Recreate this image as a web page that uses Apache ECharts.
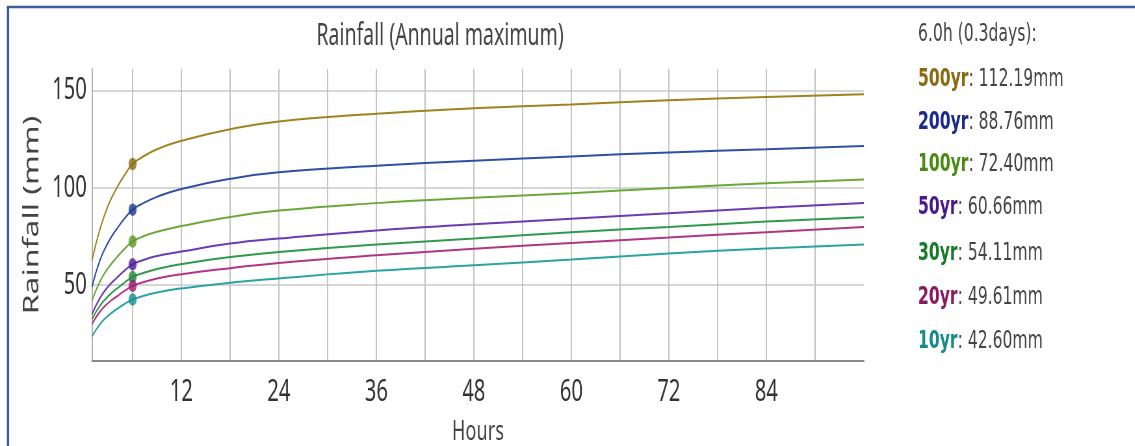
<!DOCTYPE html>
<html>
<head>
<meta charset="utf-8">
<script src="https://cdn.jsdelivr.net/npm/echarts@6/dist/echarts.min.js"></script>
<style>
html,body{margin:0;padding:0;background:#fff;overflow:hidden;}
#wrap{width:1135px;height:446px;overflow:hidden;position:relative;}
#c{width:1746px;height:446px;transform:scaleX(0.65);transform-origin:0 0;}
</style>
</head>
<body>
<div id="wrap"><div id="c"></div></div>
<script>
// ---- data ----
const hours = [1, 2, 3, 4, 5, 6, 7, 9, 12, 18, 24, 36, 48, 60, 72, 84, 96];
const periods = ['500yr', '200yr', '100yr', '50yr', '30yr', '20yr', '10yr'];
const r500 = [62.8, 79.0, 91.0, 99.5, 106.5, 112.19, 115.3, 119.8, 124.1, 130.1, 134.0, 138.0, 140.8, 142.8, 144.9, 146.6, 148.0];
const r200 = [49.1, 63.0, 72.0, 78.5, 84.2, 88.76, 91.4, 95.3, 99.4, 104.6, 107.9, 111.3, 113.9, 116.1, 118.1, 119.8, 121.4];
const r100 = [42.0, 52.0, 58.8, 64.0, 68.6, 72.40, 74.5, 77.4, 80.3, 85.0, 88.3, 92.1, 94.8, 97.2, 99.9, 102.3, 104.3];
const r50  = [35.0, 43.5, 49.3, 53.5, 57.4, 60.66, 62.4, 64.9, 67.2, 71.3, 73.9, 78.1, 81.2, 84.1, 86.9, 89.7, 92.2];
const r30  = [32.5, 39.5, 44.3, 48.0, 51.3, 54.11, 55.8, 58.3, 60.8, 64.4, 67.0, 70.8, 73.9, 77.2, 79.8, 82.6, 84.9];
const r20  = [30.0, 36.5, 40.8, 44.0, 47.0, 49.61, 51.1, 53.4, 55.6, 58.7, 61.4, 65.3, 68.6, 71.6, 74.4, 77.2, 79.8];
const r10  = [23.6, 30.0, 34.3, 37.5, 40.3, 42.60, 44.0, 46.2, 48.3, 51.2, 53.4, 57.3, 60.2, 63.1, 66.2, 68.8, 70.9];
const seriesValues = [r500, r200, r100, r50, r30, r20, r10];
const markHour = 6;
const depthLabels = ['112.19mm', '88.76mm', '72.40mm', '60.66mm', '54.11mm', '49.61mm', '42.60mm'];
const headerText = '6.0h (0.3days):';
const xTickValues = [6, 12, 18, 24, 30, 36, 42, 48, 54, 60, 66, 72, 78, 84, 90];
const xLabelValues = [12, 24, 36, 48, 60, 72, 84];
const yTickValues = [50, 100, 150];

// ---- styles ----
const SX = 0.65; // horizontal squeeze of the whole picture
const lineColors = ['#a2821f', '#2f4fa3', '#6aa83a', '#6a3bb3', '#2f9a4c', '#b13585', '#2ba3a6'];
const dotColors  = ['#8a6a10', '#1c3592', '#5a9a25', '#4f1a96', '#1f8a3a', '#981d6c', '#16908f'];
const labelColors = ['#8a6a12', '#1b2a86', '#4a8a12', '#4a1a8c', '#1a7a2c', '#8a1a5c', '#178a8a'];
const FONT = '"Noto Sans", sans-serif';
const NARROW = '"Liberation Sans Narrow", "Noto Sans", sans-serif';
const LEGFONT = '"DejaVu Sans", "Noto Sans", sans-serif';

const chart = echarts.init(document.getElementById('c'), null, {renderer: 'canvas'});

const series = [];
seriesValues.forEach((vals, i) => {
  series.push({
    type: 'line',
    name: periods[i],
    data: hours.map((h, k) => [h, vals[k]]),
    smooth: 0.5,
    showSymbol: false,
    lineStyle: {color: lineColors[i], width: 2},
    z: 3,
    silent: true
  });
});
seriesValues.forEach((vals, i) => {
  const k = hours.indexOf(markHour);
  series.push({
    type: 'scatter',
    data: [[markHour, vals[k]]],
    symbolSize: 12.5,
    itemStyle: {color: dotColors[i]},
    z: 5,
    silent: true
  });
});

const legendY = [80, 122.5, 165, 208, 254, 298, 342];
const legendItems = periods.map((p, i) => ({
  type: 'text',
  x: 918 / SX,
  y: legendY[i],
  style: {
    text: '{b|' + p + '}{v|: ' + depthLabels[i] + '}',
    verticalAlign: 'middle',
    rich: {
      b: {fontFamily: LEGFONT, fontSize: 24, fontWeight: 'bold', fill: labelColors[i], color: labelColors[i]},
      v: {fontFamily: LEGFONT, fontSize: 24, fill: '#444', color: '#444'}
    }
  }
}));

chart.setOption({
  animation: false,
  backgroundColor: '#fff',
  grid: {left: 92 / SX, right: (1135 - 864) / SX, top: 69, bottom: 85, containLabel: false, outerBoundsMode: 'none'},
  xAxis: {
    type: 'value',
    min: 1,
    max: 96,
    name: 'Hours',
    nameLocation: 'middle',
    nameGap: 57,
    nameTextStyle: {fontFamily: FONT, fontSize: 28, color: '#444'},
    axisLine: {lineStyle: {color: '#8a8a8a', width: 2}},
    axisTick: {show: false, customValues: xTickValues},
    axisLabel: {customValues: xLabelValues, fontFamily: NARROW, fontSize: 31, color: '#333', margin: 16},
    splitLine: {show: true, lineStyle: {color: '#c4c4c4', width: 2}}
  },
  yAxis: {
    type: 'value',
    min: 11,
    max: 161,
    name: 'Rainfall (mm)',
    nameLocation: 'middle',
    nameGap: 76,
    nameTextStyle: {fontFamily: FONT, fontSize: 32, color: '#444'},
    axisLine: {show: true, lineStyle: {color: '#b0b0b0', width: 2}},
    axisTick: {show: false, customValues: yTickValues},
    axisLabel: {customValues: yTickValues, fontFamily: NARROW, fontSize: 31, color: '#333', margin: 8},
    splitLine: {show: true, lineStyle: {color: '#d6d6d6', width: 2}}
  },
  graphic: [
    {type: 'line', shape: {x1: 7 / SX, y1: 7, x2: 1135 / SX, y2: 7}, style: {stroke: '#3c5ca0', lineWidth: 2.5}},
    {type: 'line', shape: {x1: 8 / SX, y1: 6, x2: 8 / SX, y2: 446}, style: {stroke: '#3c5ca0', lineWidth: 3.5}},
    {
      type: 'text', x: 440 / SX, y: 36,
      style: {text: 'Rainfall (Annual maximum)', fontFamily: FONT, fontSize: 30, fill: '#444', align: 'center', verticalAlign: 'middle'}
    },
    {
      type: 'text', x: 918 / SX, y: 35,
      style: {text: headerText, fontFamily: LEGFONT, fontSize: 24, fill: '#444', verticalAlign: 'middle'}
    }
  ].concat(legendItems),
  series: series
});
</script>
</body>
</html>
